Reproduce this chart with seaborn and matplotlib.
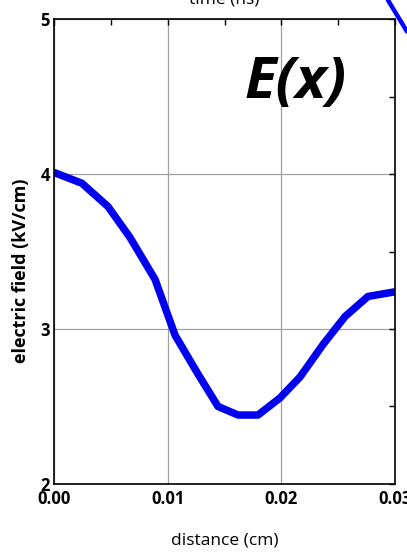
import matplotlib
matplotlib.use("Agg")
import matplotlib.pyplot as plt
from matplotlib.lines import Line2D
from matplotlib.ticker import MultipleLocator
import seaborn as sns
import pandas as pd

# values
distance = [0.0, 0.00246, 0.00475, 0.00669, 0.00889, 0.01065, 0.01258, 0.01443,
            0.01619, 0.01795, 0.01988, 0.02164, 0.02367, 0.0256, 0.02762, 0.0300]
field = [4.01, 3.94, 3.79, 3.59, 3.32, 2.96, 2.72, 2.50,
         2.445, 2.445, 2.555, 2.69, 2.90, 3.08, 3.21, 3.24]
x_ticks = [0.00, 0.01, 0.02, 0.03]
y_ticks = [2, 3, 4, 5]

sns.set_style("white")
plt.rcParams['font.family'] = ['Open Sans', 'DejaVu Sans']
plt.rcParams['text.color'] = 'black'
plt.rcParams['xtick.color'] = 'black'
plt.rcParams['ytick.color'] = 'black'

df = pd.DataFrame({'distance': distance, 'field': field})

fig = plt.figure(figsize=(4.07, 5.53), dpi=100)
ax = fig.add_axes([0.1327, 0.1248, 0.8378, 0.8408])

sns.lineplot(data=df, x='distance', y='field', color='#0000ee', linewidth=5.4, ax=ax)

ax.set_xlim(0, 0.03)
ax.set_ylim(2, 5)
ax.set_xticks(x_ticks)
ax.set_xticklabels(['%.2f' % v for v in x_ticks], fontsize=12, fontweight='bold')
ax.set_yticks(y_ticks)
ax.set_yticklabels([str(v) for v in y_ticks], fontsize=12, fontweight='bold')
ax.xaxis.set_minor_locator(MultipleLocator(0.005))
ax.yaxis.set_minor_locator(MultipleLocator(0.5))
ax.tick_params(which='both', direction='in', top=True, right=True, length=4,
               width=1, color='black', pad=3)
ax.tick_params(axis='x', pad=4)
ax.grid(True, which='major', color='#a0a0a0', linewidth=0.9)
for s in ax.spines.values():
    s.set_color('black')
    s.set_linewidth(1.2)

ax.set_xlabel('')
ax.set_ylabel('')
fig.text(0.551, 0.023, 'distance (cm)', ha='center', va='center', fontsize=12.5)
fig.text(0.052, 0.51, 'electric field (kV/cm)', ha='center', va='center',
         rotation=90, fontsize=13, fontweight='bold')
fig.text(0.551, 1.0, 'time (ns)', ha='center', va='center', fontsize=12.5)

fig.text(0.725, 0.85, 'E(x)', ha='center', va='center',
         fontsize=42, fontweight='bold', fontstyle='italic')

# blue stroke crossing the top-right corner
fig.add_artist(Line2D([0.953, 1.0], [1.0, 0.943], transform=fig.transFigure,
                      color='#0000ff', linewidth=3.2))

fig.savefig('out.png', dpi=100)
